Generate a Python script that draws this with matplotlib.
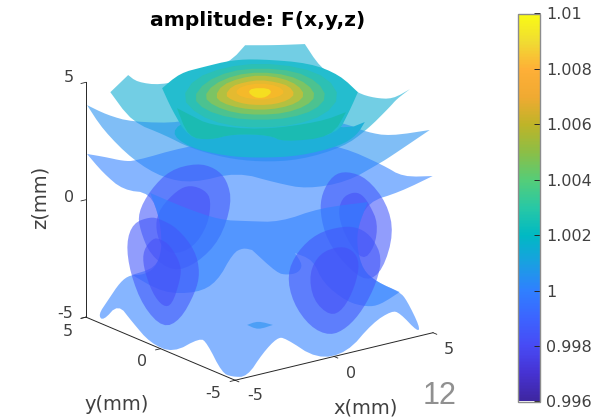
import matplotlib
matplotlib.use('Agg')
import matplotlib.pyplot as plt
import numpy as np
from matplotlib.cm import ScalarMappable
from matplotlib.colors import LinearSegmentedColormap, Normalize
from mpl_toolkits.mplot3d import proj3d
from mpl_toolkits.mplot3d.art3d import Poly3DCollection

# outlines of the iso surfaces as seen from the camera:
# (distance along the viewing plane in mm, z in mm), a doubled point is a hard corner
sheet_top = [(-5.30,5.64),(-5.30,5.64),(-4.94,5.34),(-4.01,5.21),(-2.80,5.51),(-1.19,6.19),(-0.58,6.91),(-0.58,6.91),(0.62,6.91),(1.83,6.96),(1.83,6.96),
             (2.44,5.98),(3.24,5.43),(3.97,4.87),(4.65,4.66),(5.38,4.62),(6.07,5.04),(5.54,4.62),(5.26,4.28),
             (4.33,3.30),(3.37,2.57),(1.63,2.02),(0.02,1.94),(-1.39,2.11),(-2.80,2.53),(-3.81,3.08),(-5.14,3.64),(-6.02,4.91),(-6.02,4.91)]
sheet_upper = [(-6.96,4.36),(-6.31,3.30),(-5.10,2.02),(-3.89,1.26),(-2.68,1.04),(-0.91,1.51),(0.71,1.04),(1.91,0.79),
               (3.53,1.09),(4.86,1.89),(5.26,2.15),(6.87,3.30),(5.26,3.04),(4.33,3.21),(3.65,3.51),(1.63,4.06),
               (-2.40,4.06),(-3.08,3.60),(-5.14,3.64),(-6.15,3.94)]
sheet_middle = [(-6.96,2.28),(-6.31,1.47),(-5.50,0.74),(-4.41,0.62),(-4.01,-0.53),(-3.93,-1.81),(-4.21,-2.57),(-5.14,-2.87),
                (-3.89,-3.64),(-2.52,-3.64),(-1.71,-3.17),(-1.07,-1.94),(-0.66,-1.72),(-0.30,-1.81),(-0.30,-1.81),(0.71,-2.79),(1.11,-2.87),
                (1.55,-2.79),(1.75,-2.45),(1.43,-1.94),(2.16,-2.23),(2.56,-3.21),(3.53,-4.02),(4.33,-4.23),(4.86,-4.15),
                (5.66,-3.60),(4.74,-3.17),(4.17,-2.66),(3.93,-1.68),(3.97,-0.83),(4.37,0.23),(5.66,0.66),(6.99,1.34),
                (5.79,1.30),(4.98,1.81),(3.37,2.57),(1.63,2.87),(-0.79,2.96),(-3.08,2.57),(-5.02,1.98),(-5.50,1.98),(-6.23,2.15)]
sheet_bottom = [(-6.51,-4.57),(-6.31,-4.83),(-5.70,-4.11),(-5.14,-4.87),(-4.41,-5.77),(-3.49,-6.19),(-2.40,-5.55),(-2.12,-5.77),
                (-1.51,-7.04),(-1.11,-7.21),(-0.50,-7.21),(0.14,-6.19),(0.71,-5.55),(1.03,-5.55),(2.32,-6.45),(3.53,-6.19),
                (4.57,-4.91),(5.34,-4.40),(5.66,-4.49),(6.39,-5.30),(6.47,-5.08),(5.94,-3.94),(5.66,-3.60),(4.74,-3.17),
                (4.17,-2.66),(3.93,-1.68),(3.97,-0.83),(4.37,0.23),(2.44,-0.02),(0.83,-0.62),(-0.50,-0.58),(-1.59,-0.53),
                (-3.00,-0.02),(-4.41,0.62),(-4.01,-0.53),(-3.93,-1.81),(-4.21,-2.57),(-4.69,-2.87),(-5.22,-2.87),(-5.62,-3.17),(-6.11,-3.94)]
small_lens = [(-0.50,-5.00),(-0.06,-4.83),(0.54,-5.00),(-0.06,-5.21)]

back_left_out = [(-2.52,1.89),(-3.61,1.60),(-4.41,0.74),(-4.90,-0.23),(-4.82,-0.96),(-4.41,-2.02),(-3.49,-2.75),(-2.52,-2.37),
                 (-1.59,-1.38),(-1.11,0.19),(-1.31,1.17),(-1.79,1.68)]
back_left_in = [(-2.80,0.96),(-3.32,0.74),(-4.01,-0.02),(-4.21,-0.74),(-4.01,-1.60),(-3.53,-2.02),(-2.68,-1.72),(-2.08,-0.74),
                (-1.95,0.32),(-2.20,0.74)]
front_left_out = [(-4.41,-0.40),(-5.10,-0.66),(-5.38,-1.51),(-5.22,-2.79),(-4.69,-4.23),(-3.89,-5.13),(-3.20,-4.79),(-2.60,-3.64),
                  (-2.40,-2.79),(-2.60,-1.81),(-3.32,-0.87),(-4.01,-0.49)]
front_left_in = [(-4.29,-1.30),(-4.69,-1.81),(-4.69,-2.53),(-4.33,-3.64),(-3.89,-4.23),(-3.53,-4.15),(-3.20,-3.08),(-3.16,-2.45),
                 (-3.61,-1.60),(-4.01,-1.34)]
back_right_out = [(3.53,1.55),(2.96,1.38),(2.52,0.62),(2.44,-0.23),(2.72,-1.38),(3.45,-2.45),(4.33,-3.17),(4.98,-2.66),
                  (5.42,-1.09),(5.14,0.19),(4.33,1.26)]
back_right_in = [(3.77,0.66),(3.32,0.40),(3.16,-0.32),(3.53,-1.38),(4.17,-2.28),(4.65,-1.68),(4.78,-0.66),(4.45,0.11),(4.13,0.57)]
front_right_out = [(3.37,-0.79),(2.32,-1.09),(1.51,-1.89),(1.11,-2.87),(1.35,-4.06),(2.04,-5.08),(2.84,-5.47),(3.53,-5.13),
                   (4.17,-4.36),(4.74,-3.17),(4.94,-2.11),(4.57,-1.30),(4.05,-0.87)]
front_right_in = [(3.24,-1.64),(2.44,-1.94),(2.00,-2.79),(2.16,-3.94),(2.84,-4.62),(3.37,-4.36),(3.85,-3.38),(4.05,-2.36),(3.77,-1.81)]

dome_cap = [(-3.61,3.21),(-2.88,2.57),(-1.39,2.19),(0.02,2.11),(1.63,2.19),(3.24,2.62),(3.93,3.08),(4.25,3.64),(3.45,3.30),
            (0.02,4.15),(-2.80,3.81)]
dome_body = [(-3.93,5.08),(-3.93,5.08),(-3.21,5.72),(-2.28,5.98),(-1.11,6.28),(0.02,6.32),(2.04,6.15),(3.24,5.64),(3.97,4.91),(3.97,4.91),(3.65,4.15),
             (3.13,3.08),(0.95,2.79),(0.42,3.08),(-1.07,3.13),(-2.00,2.87),(-2.88,3.00),(-3.53,4.15)]
dome_skirt = [(-3.33,4.23),(-2.88,3.00),(-2.00,2.87),(-1.07,3.13),(0.42,3.08),(0.95,2.79),(2.92,3.00),(3.49,4.06),(2.44,3.64),
              (0.02,3.30),(-2.00,3.51),(-2.80,3.94)]
ring1 = [(-3.13,4.66),(-2.60,5.51),(-1.39,5.98),(0.02,6.15),(1.63,5.98),(2.76,5.51),(3.24,4.70),(2.64,3.94),(1.43,3.51),(0.02,3.38),(-1.39,3.51),(-2.48,3.94)]
ring2 = [(-2.68,4.66),(-2.20,5.34),(-1.19,5.81),(0.02,5.94),(1.43,5.81),(2.36,5.34),(2.72,4.70),(2.24,4.15),(1.23,3.81),(0.02,3.72),(-1.19,3.81),(-2.20,4.15)]
ring3 = [(-2.24,4.70),(-1.88,5.23),(-0.99,5.64),(0.02,5.77),(1.15,5.64),(1.96,5.25),(2.28,4.74),(1.88,4.32),(1.03,4.02),(0.02,3.94),(-0.99,4.02),(-1.83,4.32)]
ring4 = [(-1.79,4.74),(-1.51,5.21),(-0.79,5.51),(0.02,5.64),(0.91,5.51),(1.55,5.21),(1.83,4.79),(1.51,4.45),(0.83,4.23),(0.02,4.15),(-0.79,4.23),(-1.51,4.45)]
ring5 = [(-1.39,4.79),(-1.11,5.17),(-0.58,5.34),(0.02,5.43),(0.67,5.34),(1.19,5.17),(1.43,4.83),(1.15,4.57),(0.62,4.40),(0.02,4.36),(-0.58,4.40),(-1.11,4.57)]
ring6 = [(-0.99,4.91),(-0.71,5.17),(0.02,5.30),(0.75,5.17),(1.03,4.91),(0.75,4.70),(0.02,4.57),(-0.71,4.70)]
ring7 = [(-0.46,4.91),(-0.30,5.08),(0.34,5.08),(0.50,4.91),(0.26,4.70),(0.02,4.66),(-0.22,4.70)]

# amplitude of each see-through surface, back to front
see_through = [(sheet_top, 1.0015), (sheet_upper, 1.0005), (sheet_middle, 1.0),
               (back_left_out, 0.9985), (back_left_in, 0.9982), (back_right_out, 0.9985), (back_right_in, 0.9982),
               (sheet_bottom, 1.0), (small_lens, 1.0005),
               (front_left_out, 0.9985), (front_left_in, 0.9982), (front_right_out, 0.9985), (front_right_in, 0.9982)]
dome_solid = [(dome_cap, '#1eb0d8'), (dome_body, '#24bdcf'), (dome_skirt, '#1bbbb2')]
dome_rings = [(ring1, '#2cc0b4'), (ring2, '#4cc290'), (ring3, '#7cc464'), (ring4, '#b4c040'),
              (ring5, '#e4ba30'), (ring6, '#f5b92a'), (ring7, '#f5de20')]

axis_ticks = [-5, 0, 5]
bar_ticks = [0.996, 0.998, 1, 1.002, 1.004, 1.006, 1.008, 1.01]
bar_labels = ['0.996', '0.998', '1', '1.002', '1.004', '1.006', '1.008', '1.01']
cmap_values = [0.996, 0.997, 0.998, 0.999, 1.0, 1.001, 1.002, 1.003, 1.004, 1.005, 1.006, 1.007, 1.008, 1.009, 1.01]
cmap_colors = ['#3e26a0', '#4632d2', '#474bf5', '#3c64ff', '#2f80ff', '#19a0e1', '#00b9c3', '#28c8a5', '#55cd78',
               '#8cbe46', '#beb428', '#f0aa32', '#feaf37', '#f0dc32', '#f9fb14']

W, H = 608, 418
TXT = '#404040'
LINE = '#262626'
AZ = -127
EL = 18.6

norm = Normalize(0.996, 1.01)
pos = [round((v - 0.996) / 0.014, 6) for v in cmap_values]
parula = LinearSegmentedColormap.from_list('parula_like', list(zip(pos, cmap_colors)))

fig = plt.figure(figsize=(W / 100, H / 100), dpi=100)
ax = fig.add_axes([0, 0, 1, 1], projection='3d', computed_zorder=False)
ax.set_proj_type('ortho')
ax.view_init(elev=EL, azim=AZ)


def round_corners(points, passes, sharp=62):
    # cut the corners of an outline, sharp tips and doubled points stay as they are
    for _ in range(passes):
        out = []
        n = len(points)
        for i in range(n):
            p = points[i]
            a = points[i - 1] - p
            b = points[(i + 1) % n] - p
            la, lb = np.linalg.norm(a), np.linalg.norm(b)
            if la == 0 or lb == 0:
                out.append(p)
                continue
            if np.degrees(np.arccos(np.clip(a @ b / (la * lb), -1, 1))) < sharp:
                out.append(p)
            else:
                out.append(p + a * 0.25)
                out.append(p + b * 0.25)
        points = np.array(out)
    return points


def add_outline(outline, color, alpha, order, passes=2):
    h, z = round_corners(np.array(outline), passes).T
    x = h * np.cos(np.radians(AZ + 90))
    y = h * np.sin(np.radians(AZ + 90))
    poly = Poly3DCollection([list(zip(x, y, z))], facecolors=[matplotlib.colors.to_rgba(color, alpha)],
                            edgecolors='none', linewidths=0, zorder=order)
    ax.add_collection3d(poly, autolim=False)


order = 1
for outline, value in see_through:
    add_outline(outline, parula(norm(value)), 0.58, order)
    order += 1
for outline, color in dome_solid:
    add_outline(outline, color, 1, order)
    order += 1
for outline, color in dome_rings:
    add_outline(outline, color, 1, order, passes=1)
    order += 1

ax.plot([-5, -5], [5, 5], [-5, 5], color=LINE, lw=0.7, zorder=50)
ax.plot([-5, 5], [-5, -5], [-5, -5], color=LINE, lw=0.7, zorder=50)
ax.plot([-5, -5], [-5, 5], [-5, -5], color=LINE, lw=0.7, zorder=50)
for t in axis_ticks:
    ax.plot([-5, -5.25], [5, 5], [t, t], color=LINE, lw=0.6, zorder=50)
    ax.plot([t, t], [-5, -5.25], [-5, -5], color=LINE, lw=0.6, zorder=50)
    ax.plot([-5, -5.25], [t, t], [-5, -5], color=LINE, lw=0.6, zorder=50)

ax.set_xlim(-5, 5)
ax.set_ylim(-5, 5)
ax.set_zlim(-5, 5)
ax.set_axis_off()
ax.patch.set_visible(False)


def to_px(x, y, z):
    px, py, _ = proj3d.proj_transform(x, y, z, ax.get_proj())
    return ax.transData.transform((px, py))


# fit the box on the wanted spot of the figure
ax.set_box_aspect((1, 1, 1), zoom=1)
fig.canvas.draw()
span = to_px(5, -5, -5)[0] - to_px(-5, 5, -5)[0]
ax.set_box_aspect((1, 1, 1), zoom=347 / span)
fig.canvas.draw()
mid = to_px(0, 0, 0)
ax.set_position([(259.5 - mid[0]) / W, (H - 207.5 - mid[1]) / H, 1, 1])


def label(px, py, s, **kw):
    fig.text(px / W, 1 - py / H, s, ha=kw.pop('ha', 'center'), va='center', color=kw.pop('color', TXT),
             fontsize=kw.pop('fontsize', 11.5), **kw)


label(258, 20, 'amplitude: F(x,y,z)', fontsize=14.6, fontweight='bold', color='black')
label(40, 197, 'z(mm)', rotation=90, fontsize=14)
label(117, 405, 'y(mm)', fontsize=14)
label(366, 408, 'x(mm)', fontsize=14)
label(69, 78, '5')
label(69, 197, '0')
label(65, 314, '-5')
label(68, 332, '5')
label(142, 362, '0')
label(213, 394, '-5')
label(255, 396, '-5')
label(351, 373, '0')
label(449, 349, '5')
label(440, 396, '12', fontsize=22, color='#909090', family='Liberation Sans')

cax = fig.add_axes([517.5 / W, 1 - 401.5 / H, 22 / W, 388 / H])
cb = fig.colorbar(ScalarMappable(norm=norm, cmap=parula), cax=cax, ticks=bar_ticks)
cb.ax.set_yticklabels(bar_labels, fontsize=11.5, color=TXT)
cb.ax.tick_params(direction='in', length=4, width=0.7, color=LINE, pad=5)
cb.outline.set_edgecolor('#8c8c8c')
cb.outline.set_linewidth(1.0)

fig.savefig('out.png', dpi=100)
